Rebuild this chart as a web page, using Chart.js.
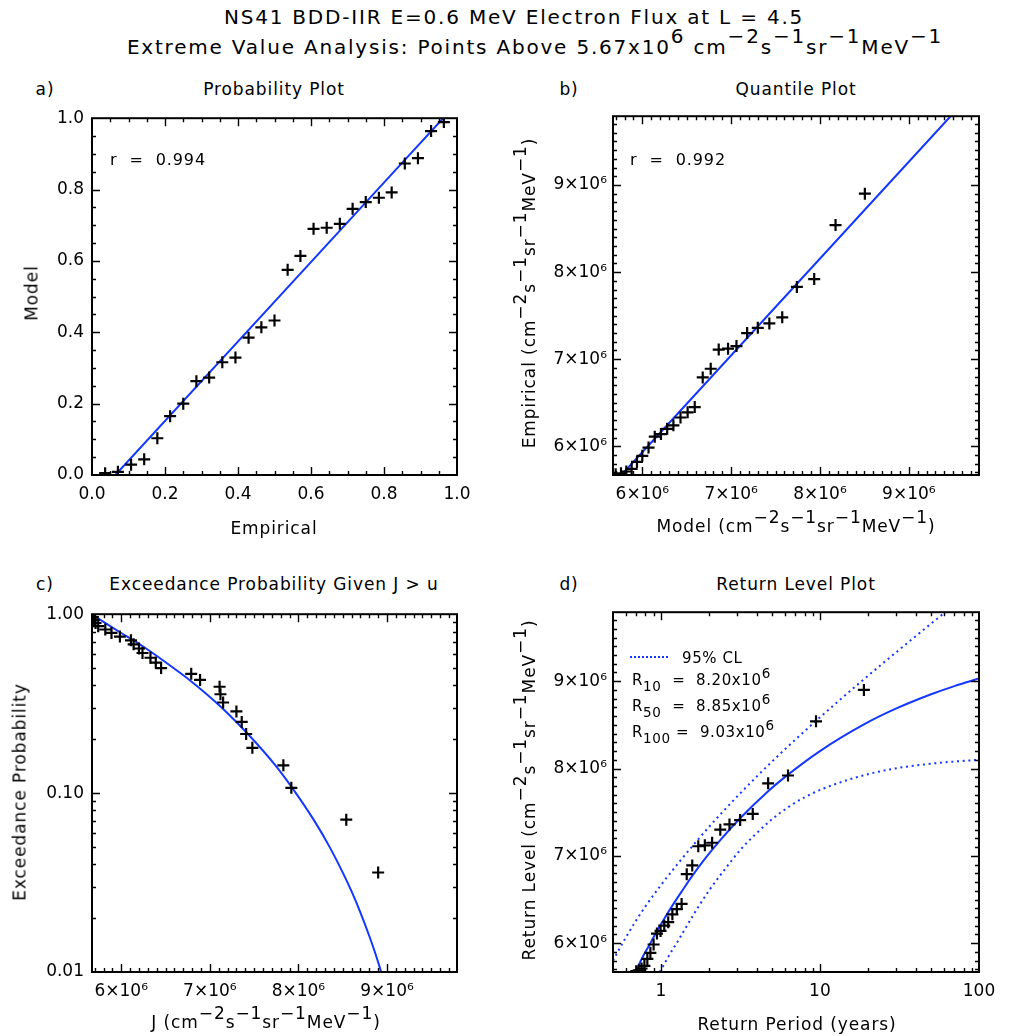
<!DOCTYPE html>
<html><head><meta charset="utf-8">
<script src="https://cdn.jsdelivr.net/npm/chart.js@4/dist/chart.umd.min.js"></script>
<style>
html,body{margin:0;padding:0;background:#fff}
body{width:1009px;height:1036px;position:relative;overflow:hidden;font-family:'DejaVu Sans',sans-serif;color:#000}
canvas{position:absolute}
.t{position:absolute;white-space:pre;line-height:1;font-size:17px;letter-spacing:0.9px;transform:translate(-50%,-50%);z-index:5}
.l{position:absolute;white-space:pre;line-height:1;font-size:15px;letter-spacing:0.6px;transform:translate(0,-50%);z-index:5}
.r{transform:translate(-50%,-50%) rotate(-90deg)}
sup{font-size:100%;position:relative;top:-0.55em;vertical-align:baseline;line-height:0}
.l sup{font-size:90%}
sub{font-size:90%;position:relative;top:0.45em;vertical-align:baseline;line-height:0}
</style></head><body>
<canvas id="ca" width="480" height="420" style="left:0;top:100px"></canvas>
<canvas id="cb" width="489" height="420" style="left:520px;top:100px"></canvas>
<canvas id="cc" width="480" height="420" style="left:0;top:596px"></canvas>
<canvas id="cd" width="489" height="420" style="left:520px;top:596px"></canvas>

<div class="t" style="left:514px;top:17px;font-size:20px;letter-spacing:1.8px">NS41 BDD-IIR E=0.6 MeV Electron Flux at L = 4.5</div>
<div class="t" style="left:535px;top:47px;font-size:20px;letter-spacing:1.8px">Extreme Value Analysis: Points Above 5.67x10<sup>6</sup> cm<sup>−2</sup>s<sup>−1</sup>sr<sup>−1</sup>MeV<sup>−1</sup></div>

<div class="t" style="left:45px;top:89px">a)</div>
<div class="t" style="left:274px;top:89px">Probability Plot</div>
<div class="t" style="left:569px;top:89px">b)</div>
<div class="t" style="left:796px;top:89px">Quantile Plot</div>
<div class="t" style="left:45px;top:584px">c)</div>
<div class="t" style="left:274px;top:584px">Exceedance Probability Given J &gt; u</div>
<div class="t" style="left:569px;top:584px">d)</div>
<div class="t" style="left:796px;top:584px">Return Level Plot</div>

<div class="t" style="left:274px;top:528px">Empirical</div>
<div class="t" style="left:796px;top:526px">Model (cm<sup>−2</sup>s<sup>−1</sup>sr<sup>−1</sup>MeV<sup>−1</sup>)</div>
<div class="t" style="left:266px;top:1022px">J (cm<sup>−2</sup>s<sup>−1</sup>sr<sup>−1</sup>MeV<sup>−1</sup>)</div>
<div class="t" style="left:797px;top:1024px">Return Period (years)</div>

<div class="t r" style="left:32px;top:293px">Model</div>
<div class="t r" style="left:529px;top:293px">Empirical (cm<sup>−2</sup>s<sup>−1</sup>sr<sup>−1</sup>MeV<sup>−1</sup>)</div>
<div class="t r" style="left:20px;top:792px">Exceedance Probability</div>
<div class="t r" style="left:529px;top:790px">Return Level (cm<sup>−2</sup>s<sup>−1</sup>sr<sup>−1</sup>MeV<sup>−1</sup>)</div>

<div class="l" style="left:110px;top:160px;font-size:16px;letter-spacing:0.9px">r  =  0.994</div>
<div class="l" style="left:630px;top:160px;font-size:16px;letter-spacing:0.9px">r  =  0.992</div>

<div style="position:absolute;left:630px;top:656px;width:38px;height:0;border-top:2px dotted #1438ff;z-index:5"></div>
<div class="l" style="left:682px;top:658px">95% CL</div>
<div class="l" style="left:632px;top:680px">R<sub>10</sub>  =  8.20x10<sup>6</sup></div>
<div class="l" style="left:632px;top:706px">R<sub>50</sub>  =  8.85x10<sup>6</sup></div>
<div class="l" style="left:632px;top:732px">R<sub>100</sub> =  9.03x10<sup>6</sup></div>

<script>
// ---------------- data ----------------
// a) probability plot
const EMPIRICAL_PROB = [0.036,0.071,0.107,0.143,0.179,0.214,0.250,0.286,0.321,0.357,0.393,0.429,0.464,0.500,0.536,0.571,0.607,0.643,0.679,0.714,0.750,0.786,0.821,0.857,0.893,0.929,0.964];
const MODEL_PROB     = [0.005,0.009,0.029,0.044,0.103,0.165,0.200,0.263,0.273,0.316,0.329,0.385,0.414,0.433,0.575,0.614,0.690,0.693,0.704,0.746,0.765,0.777,0.792,0.873,0.888,0.964,0.989];
const FIT_A_X = [0.064, 0.962];
const FIT_A_Y = [0.0, 1.0];

// sorted exceedance fluxes (cm^-2 s^-1 sr^-1 MeV^-1)
const FLUX = [5.68e6,5.69e6,5.71e6,5.74e6,5.82e6,5.89e6,5.985e6,6.11e6,6.14e6,6.20e6,6.24e6,6.33e6,6.39e6,6.45e6,6.79e6,6.89e6,7.11e6,7.12e6,7.15e6,7.30e6,7.36e6,7.41e6,7.48e6,7.83e6,7.92e6,8.54e6,8.90e6];
// b) quantile plot: model quantiles
const MODEL_QUANT = [5.70e6,5.76e6,5.82e6,5.88e6,5.94e6,6.00e6,6.07e6,6.14e6,6.21e6,6.28e6,6.35e6,6.43e6,6.51e6,6.59e6,6.68e6,6.77e6,6.86e6,6.965e6,7.06e6,7.18e6,7.30e6,7.43e6,7.575e6,7.74e6,7.935e6,8.175e6,8.505e6];
const FIT_B_X = [5.765e6, 9.47e6];
const FIT_B_Y = [5.67e6, 9.79e6];

// c) exceedance probability
const EXCEED_PROB = [0.964,0.929,0.893,0.857,0.821,0.786,0.750,0.714,0.679,0.643,0.607,0.571,0.536,0.500,0.464,0.429,0.393,0.357,0.321,0.286,0.250,0.214,0.179,0.143,0.107,0.071,0.036];
const CURVE_C_J = [5.67e6,5.80e6,6.00e6,6.14e6,6.28e6,6.43e6,6.59e6,6.77e6,6.965e6,7.18e6,7.43e6,7.74e6,7.93e6,8.175e6,8.35e6,8.505e6,8.60e6,8.70e6,8.80e6,8.86e6,8.92e6,8.94e6];
const CURVE_C_P = [1.0,0.906,0.785,0.714,0.643,0.571,0.500,0.429,0.357,0.286,0.214,0.143,0.107,0.0706,0.0502,0.0356,0.0282,0.0215,0.0159,0.01306,0.01054,0.00977];

// d) return level plot
const RETURN_PERIOD = [0.700,0.727,0.756,0.788,0.822,0.859,0.900,0.945,0.995,1.050,1.112,1.181,1.260,1.350,1.454,1.575,1.718,1.890,2.100,2.363,2.700,3.150,3.780,4.725,6.300,9.450,18.90];
const CURVE_D_T = [0.675,0.70,0.7875,0.859,0.945,1.05,1.181,1.35,1.575,1.89,2.363,3.15,4.725,6.3,10,18.9,30,50,70,100];
const CURVE_D_R = [5.67e6,5.70e6,5.88e6,6.00e6,6.14e6,6.28e6,6.43e6,6.59e6,6.77e6,6.965e6,7.18e6,7.43e6,7.74e6,7.93e6,8.20e6,8.505e6,8.685e6,8.85e6,8.944e6,9.03e6];
const UPPER_T = [0.5,0.6,0.7,0.8,1.0,1.3,1.6,2.0,2.5,3.2,4.0,5.0,6.47,9.5,13,18.9,27.5,40,62.6,70];
const UPPER_R = [5.80e6,6.061e6,6.262e6,6.422e6,6.664e6,6.926e6,7.124e6,7.328e6,7.522e6,7.728e6,7.907e6,8.08e6,8.273e6,8.55e6,8.768e6,9.022e6,9.271e6,9.515e6,9.803e6,9.874e6];
const LOWER_T = [0.985,1.11,1.285,1.52,1.76,2.03,2.46,3.2,4.0,5.0,6.47,8.0,10.5,17,27.5,44.6,70,100];
const LOWER_R = [5.67e6,5.84e6,6.03e6,6.256e6,6.445e6,6.615e6,6.82e6,7.08e6,7.26e6,7.42e6,7.57e6,7.67e6,7.77e6,7.90e6,7.99e6,8.045e6,8.08e6,8.10e6];

// axis ranges and tick labels
const FLUX_MIN = 5.67e6, FLUX_MAX = 9.79e6;
const TICKS_UNIT = Array.from({length:21},(_,i)=>+(i*0.05).toFixed(2));
const TICKS_FLUX = Array.from({length:41},(_,i)=>Math.round((5.7+i*0.1)*10)*1e5);
const TICKS_LOGP = [0.01,0.02,0.03,0.04,0.05,0.06,0.07,0.08,0.09,0.1,0.2,0.3,0.4,0.5,0.6,0.7,0.8,0.9,1];
const TICKS_T = [0.5,0.6,0.7,0.8,0.9,1,2,3,4,5,6,7,8,9,10,20,30,40,50,60,70,80,90,100];
const LABELS_UNIT = {0:'0.0',0.2:'0.2',0.4:'0.4',0.6:'0.6',0.8:'0.8',1:'1.0'};
const LABELS_FLUX = {6000000:'6×10⁶',7000000:'7×10⁶',8000000:'8×10⁶',9000000:'9×10⁶'};
const LABELS_LOGP = {0.01:'0.01',0.1:'0.10',1:'1.00'};
const LABELS_T = {1:'1',10:'10',100:'100'};

// ---------------- drawing ----------------
const FONT = "'DejaVu Sans', sans-serif";
const BLUE = '#1438ff';
Chart.defaults.font.family = FONT;
Chart.defaults.color = '#000';

const xy = (xs, ys) => xs.map((x,i)=>({x, y: ys[i]}));

function axis(type, pos, min, max, ticks, labels, size, pad){
  return {
    type, position: pos, min, max,
    grid:{display:false, drawTicks:false}, border:{display:false},
    ticks:{autoSkip:false, maxRotation:0, minRotation:0, padding:pad, color:'#000',
           font:{family:FONT, size:17},
           callback:(v)=> labels[v] !== undefined ? labels[v] : ''},
    afterBuildTicks: s => { s.ticks = ticks.map(v=>({value:v, mj: labels[v] !== undefined})); },
    afterFit: s => { if (pos === 'left') s.width = size; else s.height = size; }
  };
}

const idlFrame = {
  id:'idlFrame',
  afterDraw(chart){
    const {ctx, chartArea:a} = chart;
    const xs = chart.scales.x, ys = chart.scales.y;
    ctx.save();
    ctx.strokeStyle = '#000';
    ctx.lineWidth = 1.4;
    ctx.beginPath();
    xs.ticks.forEach(t=>{
      const p = Math.round(xs.getPixelForValue(t.value)) + 0.5;
      if (p <= a.left + 1 || p >= a.right - 1) return;
      const L = t.mj ? 8 : 4;
      ctx.moveTo(p, a.bottom); ctx.lineTo(p, a.bottom - L);
      ctx.moveTo(p, a.top); ctx.lineTo(p, a.top + L);
    });
    ys.ticks.forEach(t=>{
      const p = Math.round(ys.getPixelForValue(t.value)) + 0.5;
      if (p <= a.top + 1 || p >= a.bottom - 1) return;
      const L = t.mj ? 8 : 4;
      ctx.moveTo(a.left, p); ctx.lineTo(a.left + L, p);
      ctx.moveTo(a.right, p); ctx.lineTo(a.right - L, p);
    });
    ctx.stroke();
    ctx.lineWidth = 2;
    ctx.strokeRect(a.left, a.top, a.right - a.left, a.bottom - a.top);
    ctx.restore();
  }
};

const points = data => ({data, showLine:false, pointStyle:'cross', pointRadius:6, pointBorderWidth:2.2,
  borderColor:'#000', backgroundColor:'#000', pointHoverRadius:6});
const curve = (data, dash) => ({data, showLine:true, pointRadius:0, borderColor:BLUE, borderWidth:2,
  borderDash: dash || [], cubicInterpolationMode:'monotone', fill:false});

function make(id, pad, xAxis, yAxis, datasets){
  return new Chart(document.getElementById(id), {
    type:'scatter',
    data:{datasets},
    options:{
      responsive:false, animation:false, devicePixelRatio:1,
      layout:{padding:pad},
      plugins:{legend:{display:false}, tooltip:{enabled:false}},
      scales:{x:xAxis, y:yAxis},
      events:[]
    },
    plugins:[idlFrame]
  });
}

// a) Probability plot
make('ca', {top:11, right:23, left:0, bottom:0},
  axis('linear','bottom',0,1,TICKS_UNIT,LABELS_UNIT,45,9),
  axis('linear','left',0,1,TICKS_UNIT,LABELS_UNIT,92,8),
  [points(xy(EMPIRICAL_PROB, MODEL_PROB)), curve(xy(FIT_A_X, FIT_A_Y))]);

// b) Quantile plot
make('cb', {top:11, right:30, left:0, bottom:0},
  axis('linear','bottom',FLUX_MIN,FLUX_MAX,TICKS_FLUX,LABELS_FLUX,45,9),
  axis('linear','left',FLUX_MIN,FLUX_MAX,TICKS_FLUX,LABELS_FLUX,93,6),
  [points(xy(MODEL_QUANT, FLUX)), curve(xy(FIT_B_X, FIT_B_Y))]);

// c) Exceedance probability
make('cc', {top:12, right:23, left:0, bottom:0},
  axis('linear','bottom',FLUX_MIN,FLUX_MAX,TICKS_FLUX,LABELS_FLUX,44,9),
  axis('logarithmic','left',0.01,1,TICKS_LOGP,LABELS_LOGP,92,8),
  [points(xy(FLUX, EXCEED_PROB)), curve(xy(CURVE_C_J, CURVE_C_P))]);

// d) Return level plot
make('cd', {top:12, right:30, left:0, bottom:0},
  axis('logarithmic','bottom',0.5,100,TICKS_T,LABELS_T,44,9),
  axis('linear','left',FLUX_MIN,FLUX_MAX,TICKS_FLUX,LABELS_FLUX,93,6),
  [points(xy(RETURN_PERIOD, FLUX)), curve(xy(CURVE_D_T, CURVE_D_R)),
   curve(xy(UPPER_T, UPPER_R), [2,3.7]), curve(xy(LOWER_T, LOWER_R), [2,3.7])]);
</script>
</body></html>
